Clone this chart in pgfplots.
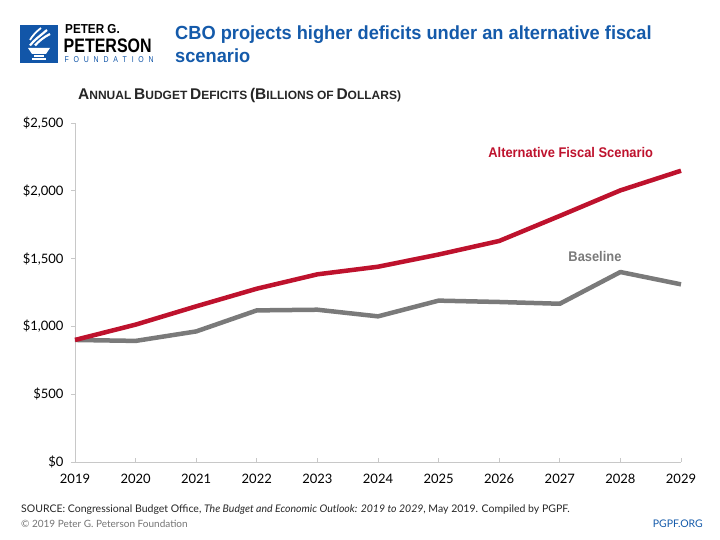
\documentclass[border=0pt]{standalone}
\usepackage{fontspec}
\setmainfont{Lato}
\newfontfamily\cond[FakeStretch=0.82]{Liberation Sans}
\newfontfamily\condn[FakeStretch=0.9]{Liberation Sans}
\newfontfamily\titlefont[FakeStretch=0.96]{Liberation Sans}
\newfontfamily\labfont[FakeStretch=0.92]{Liberation Sans}
\newfontfamily\subfont{Liberation Sans}
\usepackage{pgfplots}
\pgfplotsset{compat=1.18}
\definecolor{pgred}{RGB}{190,18,45}
\definecolor{pggray}{RGB}{122,122,122}
\definecolor{pgblue}{RGB}{20,90,170}
\definecolor{logoblue}{RGB}{18,86,168}
\definecolor{axisgray}{RGB}{200,200,200}
\newcommand{\sca}[2]{{\fontsize{15.5bp}{16bp}\selectfont #1}{\fontsize{12bp}{12bp}\selectfont #2}}
\begin{document}
\begin{tikzpicture}
\path[use as bounding box] (0,0) rectangle (720bp,540bp);
% logo
\fill[logoblue] (20bp,477bp) rectangle (58bp,515bp);
\begin{scope}[white]
  \fill (28bp,492bp) -- (50bp,492bp) -- (46bp,486bp) -- (32bp,486bp) -- cycle;
  \fill (34bp,485bp) rectangle (44bp,483bp);
  \fill (32bp,482bp) rectangle (46bp,480bp);
  \draw[line width=2.2bp] (30bp,494.5bp) .. controls (34bp,500bp) and (40bp,504bp) .. (47bp,510bp);
  \draw[line width=2.2bp] (35bp,494.5bp) .. controls (39bp,499bp) and (44bp,503bp) .. (50bp,506bp);
  \draw[line width=1.8bp] (30bp,500bp) .. controls (33bp,505bp) and (36bp,508bp) .. (41bp,512bp);
\end{scope}
\node[anchor=base west, inner sep=0pt] at (65bp,506.5bp) {\condn\bfseries\fontsize{13bp}{13bp}\selectfont PETER G.};
\node[anchor=base west, inner sep=0pt] at (63.5bp,487.5bp) {\cond\bfseries\fontsize{19.5bp}{20bp}\selectfont PETERSON};
\node[anchor=base west, inner sep=0pt, text=logoblue] at (64.5bp,477.5bp) {\makebox[89bp][s]{\cond\fontsize{8.5bp}{9bp}\selectfont F\hfill O\hfill U\hfill N\hfill D\hfill A\hfill T\hfill I\hfill O\hfill N}};
% title
\node[anchor=base west, inner sep=0pt, text=pgblue] at (175bp,500bp) {\titlefont\bfseries\fontsize{19bp}{19bp}\selectfont CBO projects higher deficits under an alternative fiscal};
\node[anchor=base west, inner sep=0pt, text=pgblue] at (175bp,477bp) {\titlefont\bfseries\fontsize{19bp}{19bp}\selectfont scenario};
% subtitle
\node[anchor=base west, inner sep=0pt, text=black!85] at (78bp,440bp) {\subfont\bfseries \sca{A}{NNUAL} \sca{B}{UDGET} \sca{D}{EFICITS} \sca{(B}{ILLIONS OF} \sca{D}{OLLARS)}};
% footer
\node[anchor=base west, inner sep=0pt, text=black!85] at (21bp,28bp) {\fontsize{10.5bp}{11bp}\selectfont SOURCE: Congressional Budget Office, \textit{The Budget and Economic Outlook: 2019 to 2029}, May 2019. Compiled by PGPF.};
\node[anchor=base west, inner sep=0pt, text=black!55] at (21bp,13bp) {\fontsize{10bp}{11bp}\selectfont \textcopyright\ 2019 Peter G. Peterson Foundation};
\node[anchor=base east, inner sep=0pt, text=pgblue] at (703bp,13bp) {\fontsize{10.5bp}{11bp}\selectfont PGPF.ORG};
\begin{axis}[
  at={(75bp,78bp)}, anchor=south west,
  width=606bp, height=339bp, scale only axis,
  xmin=2019, xmax=2029, ymin=0, ymax=2500,
  axis x line=bottom, axis y line=left,
  axis line style={draw=axisgray, line width=0.9bp, -},
  xtick={2019,2020,...,2029},
  xticklabels={2019,2020,2021,2022,2023,2024,2025,2026,2027,2028,2029},
  ytick={0,500,1000,1500,2000,2500},
  yticklabels={\$0,\$500,{\$1,000},{\$1,500},{\$2,000},{\$2,500}},
  xtick align=inside, ytick align=outside,
  major tick length=4bp,
  tick style={draw=axisgray, line width=0.9bp},
  tick label style={font=\fontsize{13bp}{14bp}\selectfont, text=black},
  xticklabel style={yshift=-9bp},
  yticklabel style={xshift=-4bp},
  clip=false,
]
\addplot[pggray, line width=4.5bp, line join=round] coordinates {
(2019,900)(2020,893)(2021,963)(2022,1118)(2023,1123)(2024,1074)(2025,1190)(2026,1180)(2027,1167)(2028,1401)(2029,1310)};
\addplot[pgred, line width=4.5bp, line join=round] coordinates {
(2019,900)(2020,1013)(2021,1148)(2022,1278)(2023,1384)(2024,1440)(2025,1530)(2026,1630)(2027,1815)(2028,2003)(2029,2148)};
\node[text=pgred, font=\labfont\bfseries\fontsize{14bp}{14bp}\selectfont] at (axis cs:2027.18,2279) {Alternative Fiscal Scenario};
\node[text=pggray, font=\labfont\bfseries\fontsize{14bp}{14bp}\selectfont] at (axis cs:2027.58,1512) {Baseline};
\end{axis}
\end{tikzpicture}
\end{document}
